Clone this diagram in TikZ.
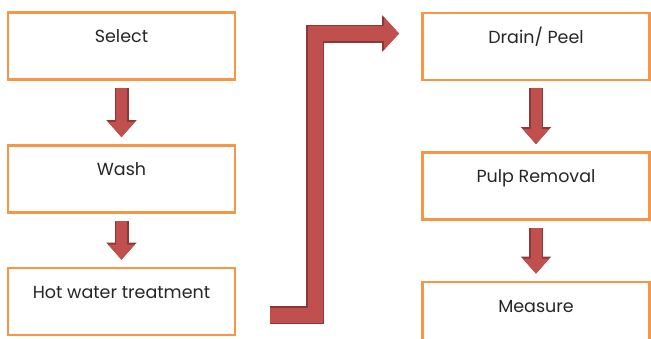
\documentclass[tikz,border=0pt]{standalone}
\usepackage{fontspec}
\setmainfont{Poppins}
\usetikzlibrary{arrows.meta,positioning}

\definecolor{boxorange}{HTML}{F79646}
\definecolor{arrowred}{HTML}{C0504D}
\definecolor{arrowdark}{HTML}{8C3836}

\tikzset{
  stepbox/.style={draw=boxorange, line width=2.6pt, fill=white, rectangle,
    minimum width=227pt, minimum height=67pt, inner sep=0pt,
    text height=30pt, text depth=37pt, text=black!85, font=\fontsize{17.5}{20}\selectfont},
  blk/.style={arrowred, line width=11pt, -{Triangle[width=25pt,length=15pt]},
    preaction={draw=arrowdark, line width=14pt, -{Triangle[width=29pt,length=17pt]}},
    shorten <=7pt, shorten >=7pt},
  bentblk/.style={arrowred, line width=15pt, line join=miter, -{Triangle[width=32pt,length=15pt]},
    preaction={draw=arrowdark, line width=18pt, line join=miter, -{Triangle[width=36pt,length=17pt]}}}
}

\begin{document}
\begin{tikzpicture}[x=1pt,y=-1pt]
\useasboundingbox (0,0) rectangle (651,338);

% left column
\node[stepbox] (select) at (121.5,46) {Select};
\node[stepbox] (wash) at (121.5,179) {Wash};
\node[stepbox] (hotwater) at (121.5,301.5) {Hot water treatment};

% right column
\node[stepbox] (drain) at (536,46.5) {Drain/ Peel};
\node[stepbox] (pulp) at (536,186) {Pulp Removal};
\node[stepbox] (measure) at (536,315.5) {Measure};

\draw[blk] (select) -- (wash);
\draw[blk] (wash) -- (hotwater);
\draw[blk] (drain) -- (pulp);
\draw[blk] (pulp) -- (measure);

% bent arrow between the columns
\coordinate (bstart) at (270,315);
\coordinate (bcorner) at (315,315);
\coordinate (btop) at (315,33.5);
\coordinate (bend) at (399,33.5);
\draw[bentblk] (bstart) -- (bcorner) -- (btop) -- (bend);
\end{tikzpicture}
\end{document}
